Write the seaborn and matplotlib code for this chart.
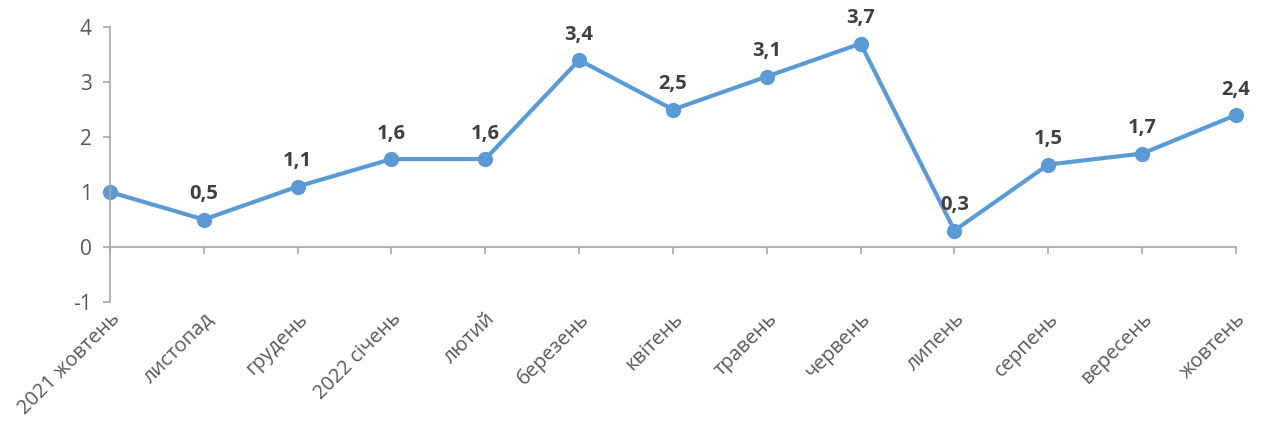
import matplotlib
matplotlib.use('Agg')
import matplotlib.pyplot as plt
import pandas as pd
import seaborn as sns

# Data
months = ['2021 жовтень', 'листопад', 'грудень', '2022 січень', 'лютий', 'березень', 'квітень',
          'травень', 'червень', 'липень', 'серпень', 'вересень', 'жовтень']
values = [1.0, 0.5, 1.1, 1.6, 1.6, 3.4, 2.5, 3.1, 3.7, 0.3, 1.5, 1.7, 2.4]
y_ticks = [-1, 0, 1, 2, 3, 4]

sns.set_style('white')
plt.rcParams['font.family'] = ['Open Sans', 'DejaVu Sans']

line_color = '#5B9BD5'
axis_color = '#A6A6A6'
text_color = '#595959'

df = pd.DataFrame({'pos': range(len(months)), 'value': values})

fig = plt.figure(figsize=(12.63, 4.23), dpi=100)
ax = fig.add_axes([0.0871, 0.286, 0.8915, 0.65])

sns.lineplot(data=df, x='pos', y='value', ax=ax, color=line_color, linewidth=3,
             marker='o', markersize=11, markeredgewidth=0, clip_on=False)

# data labels (first point has none in the original)
for i, v in enumerate(values):
    if i == 0:
        continue
    ax.annotate(f'{v:.1f}'.replace('.', ','), (i, v), xytext=(0, 11), textcoords='offset points',
                ha='center', va='bottom', fontsize=14.5, fontweight='bold', color='#404040')

ax.set_xlim(0, len(months) - 1)
ax.set_ylim(-1, 4)
ax.set_yticks(y_ticks)
ax.set_yticklabels([str(t) for t in y_ticks])
ax.set_xticks(range(len(months)))
ax.set_xticklabels(months, rotation=45, ha='right', rotation_mode='anchor')
ax.set_xlabel('')
ax.set_ylabel('')

for s in ['top', 'right', 'bottom']:
    ax.spines[s].set_visible(False)
ax.spines['left'].set_color(axis_color)
ax.spines['left'].set_linewidth(1.2)
ax.tick_params(axis='y', direction='out', length=5, width=1.2, color=axis_color,
               labelsize=15, labelcolor=text_color, left=True, pad=8)
ax.tick_params(axis='x', length=0, labelsize=14.5, labelcolor=text_color, pad=5)

# category axis line sits at y = 0
xax0 = ax.secondary_xaxis(0.2)
xax0.set_xticks(range(len(months)))
xax0.set_xticklabels([])
xax0.spines['bottom'].set_color(axis_color)
xax0.spines['bottom'].set_linewidth(1.2)
xax0.tick_params(direction='out', length=5, width=1.2, color=axis_color)

fig.savefig('out.png', dpi=100)
